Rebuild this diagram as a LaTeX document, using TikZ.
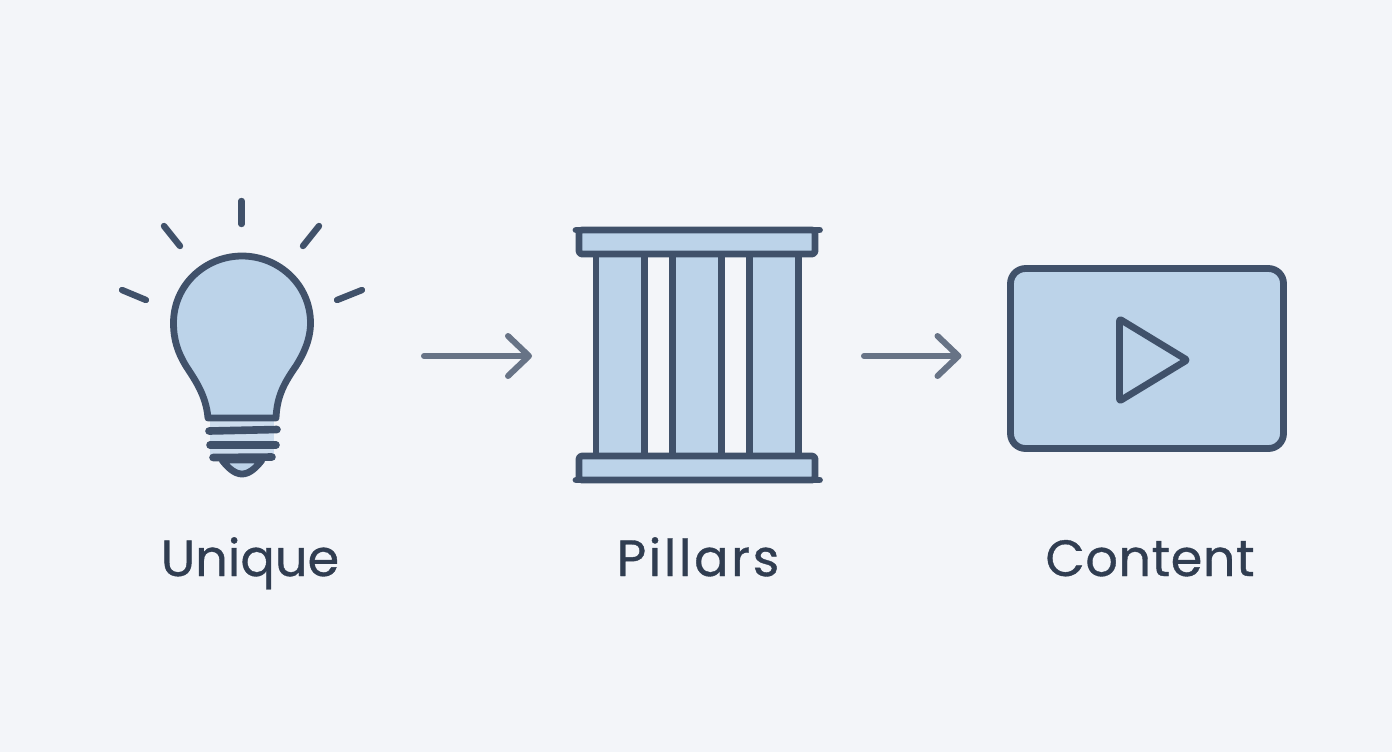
\documentclass[tikz,border=0pt]{standalone}
\usepackage{fontspec}
\setmainfont{Poppins}[FakeBold=0.7]
\usetikzlibrary{arrows.meta}
\definecolor{bgc}{HTML}{F3F5F9}
\definecolor{fillc}{HTML}{BCD3E9}
\definecolor{linec}{HTML}{40516A}
\definecolor{arrowc}{HTML}{677386}
\definecolor{textc}{HTML}{303D51}
\tikzset{
  icon/.style={draw=linec,line width=3.4pt,line join=round,line cap=round},
  iconfill/.style={icon,fill=fillc},
  raystroke/.style={draw=linec,line width=3.2pt,line cap=round},
  holder/.style={inner sep=0pt,outer sep=0pt},
  flow/.style={draw=arrowc,line width=3pt,line cap=round,-{Straight Barb[length=10.5pt,width=20pt,round]}},
  caption/.style={text=textc,anchor=base,font=\fontsize{25.5}{30}\selectfont},
}
\begin{document}
\begin{tikzpicture}[x=0.5pt,y=-0.5pt]
\useasboundingbox (0,0) rectangle (1392,752);
\fill[bgc] (0,0) rectangle (1392,752);
% holders
\node[holder,minimum width=120pt,minimum height=100pt] (bulb) at (242,356) {};
\node[holder,minimum width=122.5pt,minimum height=125pt] (pillars) at (697.5,356) {};
% bulb
\fill[fillc!70!bgc] (210,418) rectangle (274,458);
\path[iconfill] (208,418) .. controls (206,395) and (195,380) .. (186,366)
  .. controls (178,353) and (173.5,340) .. (173.5,323)
  .. controls (173.5,285) and (205,256) .. (242,256)
  .. controls (279,256) and (310.5,285) .. (310.5,323)
  .. controls (310.5,340) and (303,355) .. (296,366)
  .. controls (285,382) and (277,395) .. (276,418) -- cycle;
\path[iconfill] (222,460) .. controls (228,468) and (235,474) .. (242,474)
  .. controls (249,474) and (256,468) .. (262,460) -- cycle;
\draw[icon,line width=3.8pt] (209,431) -- (277,429.5);
\draw[icon,line width=3.8pt] (210,445) -- (276,445);
\draw[icon,line width=3.8pt] (213,457.5) -- (272,457);
\draw[raystroke] (241.5,201) -- (241.5,224);
\draw[raystroke] (164,226) -- (180,246);
\draw[raystroke] (319,226) -- (303,246);
\draw[raystroke] (122,290) -- (146,300);
\draw[raystroke] (362,290) -- (337,300);
% pillars
\fill[fillc] (596,254) rectangle (644,456);
\fill[fillc] (672,254) rectangle (722,456);
\fill[fillc] (749,254) rectangle (798,456);
\foreach \x in {596,644.3,672.3,721.7,749.3,798.3} \draw[icon,line cap=butt] (\x,254) -- (\x,456);
\path[iconfill,rounded corners=1.5pt] (579,230) -- (815,230) -- (815,254) -- (579,254) -- cycle;
\path[iconfill,rounded corners=1.5pt] (579,480) -- (815,480) -- (815,456) -- (579,456) -- cycle;
\draw[icon] (576,230) -- (819.5,230);
\draw[icon] (576,480) -- (819.5,480);
% video
\node[iconfill,rounded corners=7.5pt,minimum width=136.5pt,minimum height=90pt,inner sep=0pt,outer sep=0pt] (video) at (1147,358.5) {};
\path[icon,fill=fillc,rounded corners=1pt] (1119.5,319) -- (1187,360) -- (1119.5,401) -- cycle;
% connectors
\draw[flow,shorten <=31pt,shorten >=21.5pt] (bulb.east) -- (pillars.west);
\draw[flow,shorten <=22pt,shorten >=24.5pt] (pillars.east) -- (pillars.east -| video.west);
% labels
\node[caption] (l1) at (250,576) {Unique};
\node[caption] (l2) at (698,576) {\addfontfeature{LetterSpace=5}Pillars};
\node[caption] (l3) at (1150,576) {\addfontfeature{LetterSpace=1}Content};
\end{tikzpicture}
\end{document}
